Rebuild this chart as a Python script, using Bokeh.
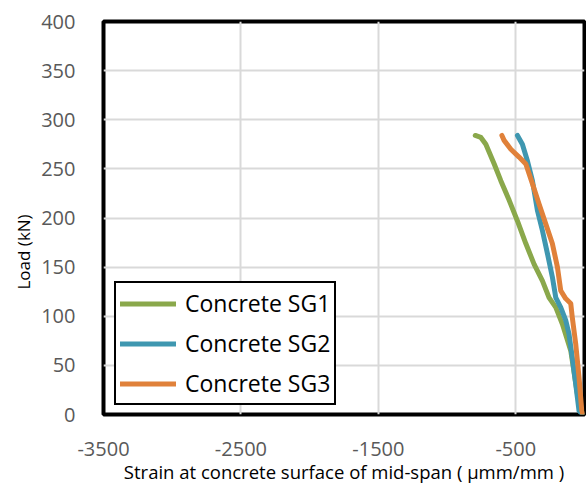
from bokeh.plotting import figure
from bokeh.models import FixedTicker, Legend, LegendItem, Range1d, Title
from bokeh.embed import file_html
from bokeh.resources import INLINE

# Data
sg1_strain = [-795, -754, -718, -657, -609, -548, -488, -427, -367, -306, -258, -209, -161, -100, -52, -15]
sg1_load = [284, 282, 275, 255, 238, 218, 197, 174, 153, 136, 119, 109, 92, 65, 21, 0]

sg2_strain = [-488, -452, -415, -379, -343, -306, -270, -234, -209, -173, -137, -113, -89, -64, -40, -15]
sg2_load = [284, 275, 258, 238, 208, 187, 164, 140, 119, 109, 96, 82, 58, 31, 4, 0]

sg3_strain = [-601, -585, -536, -476, -427, -379, -330, -282, -234, -197, -173, -137, -100, -89, -64, -40, -20, -12]
sg3_load = [284, 279, 270, 262, 255, 235, 214, 194, 174, 150, 126, 118, 113, 99, 72, 38, 4, 0]

series_names = ["Concrete SG1", "Concrete SG2", "Concrete SG3"]
series_colors = ["#8AA84B", "#3F97B0", "#E0813A"]

x_ticks = [-3500, -2500, -1500, -500]
y_ticks = [0, 50, 100, 150, 200, 250, 300, 350, 400]

FONT = "Open Sans"

p = figure(width=586, height=486, output_backend="svg", toolbar_location=None,
           x_range=Range1d(-3500, 0), y_range=Range1d(0, 400),
           min_border_left=103, min_border_right=2, min_border_top=21, min_border_bottom=72)

p.outline_line_color = "black"
p.outline_line_width = 4
p.outline_line_alpha = 1
p.background_fill_color = "white"
p.border_fill_color = "white"

p.xaxis.ticker = FixedTicker(ticks=x_ticks)
p.yaxis.ticker = FixedTicker(ticks=y_ticks)
p.xgrid.ticker = FixedTicker(ticks=x_ticks)
p.ygrid.ticker = FixedTicker(ticks=y_ticks)
p.grid.grid_line_color = "#D9D9D9"
p.grid.grid_line_width = 2

p.xaxis.major_label_overrides = {t: str(t) for t in x_ticks}

for ax in (p.xaxis, p.yaxis):
    ax.axis_line_color = None
    ax.major_tick_line_color = None
    ax.minor_tick_line_color = None
    ax.major_label_text_font = FONT
    ax.major_label_text_font_size = "20px"
    ax.major_label_text_color = "#595959"
    ax.axis_label_text_font = FONT
    ax.axis_label_text_font_style = "normal"
    ax.axis_label_text_color = "black"

p.xaxis.major_label_standoff = 21
p.yaxis.major_label_standoff = 22
p.xaxis.axis_label = "Strain at concrete surface of mid-span ( \u03bcmm/mm )"
p.xaxis.axis_label_text_font_size = "18.5px"
p.xaxis.axis_label_standoff = 0

ytitle = Title(text="Load (kN)", align="left", offset=125, standoff=8,
               text_font=FONT, text_font_size="17px", text_font_style="normal",
               text_color="black")
p.add_layout(ytitle, "left")

data = [(sg1_strain, sg1_load), (sg2_strain, sg2_load), (sg3_strain, sg3_load)]
items = []
for (xs, ys), name, col in zip(data, series_names, series_colors):
    r = p.line(xs, ys, line_color=col, line_width=5, line_cap="round", line_join="round")
    items.append(LegendItem(label=name, renderers=[r]))

legend = Legend(items=items, location=(11, 9), margin=0, padding=4, spacing=8,
                glyph_width=56, glyph_height=31, label_height=31, label_standoff=9,
                label_text_font=FONT, label_text_font_size="23px", label_text_color="black",
                border_line_color="black", border_line_width=2, border_line_alpha=1,
                background_fill_color="white", background_fill_alpha=1)
p.add_layout(legend)

open("out.html", "w").write(file_html(p, INLINE))
